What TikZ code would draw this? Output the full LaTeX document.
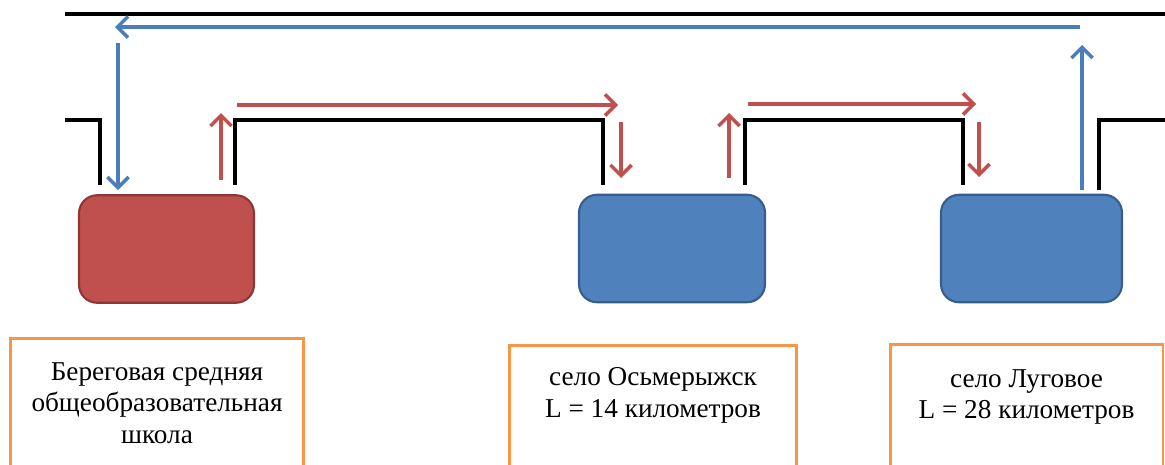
\documentclass[tikz,border=0pt]{standalone}
\usepackage{fontspec}
\setmainfont{Liberation Serif}
\newfontfamily\captionfont{Liberation Serif}
\usetikzlibrary{arrows.meta,positioning}
\definecolor{schoolRed}{HTML}{C0504D}
\definecolor{schoolRedLine}{HTML}{8C3836}
\definecolor{villageBlue}{HTML}{4F81BD}
\definecolor{villageBlueLine}{HTML}{385D8A}
\definecolor{frameOrange}{HTML}{F79646}
\definecolor{busRed}{HTML}{C0504D}
\definecolor{busBlue}{HTML}{4A7EBB}
\begin{document}
\begin{tikzpicture}[x=0.02cm, y=-0.02cm,
  road/.style={line width=2.3pt, line join=miter},
  redway/.style={busRed, line width=2pt, -{Straight Barb[length=6pt,width=12pt,line width=2pt]}},
  blueway/.style={busBlue, line width=2pt, -{Straight Barb[length=6pt,width=12pt,line width=2pt]}},
  house/.style={rounded corners=0.36cm, line width=1.2pt, minimum height=2.15cm},
  infobox/.style={draw=frameOrange, line width=1.7pt, minimum height=2.8cm, anchor=north},
  infotext/.style={align=center, inner sep=0pt, font=\captionfont\fontsize{15.5}{18}\selectfont}]
\useasboundingbox (0,0) rectangle (1165,464);
\clip (0,0) rectangle (1165,464);
\draw[road] (65,14) -- (1165,14);
\draw[road] (65,120) -- (100,120) -- (100,185);
\draw[road] (235,185) -- (235,120) -- (603,120) -- (603,185);
\draw[road] (745,185) -- (745,120) -- (963,120) -- (963,185);
\draw[road] (1099,190) -- (1099,120) -- (1165,120);
\node[house, fill=schoolRed, draw=schoolRedLine, minimum width=3.5cm] (school) at (166.5,249) {};
\node[house, fill=villageBlue, draw=villageBlueLine, minimum width=3.72cm] (osm) at (672,248.5) {};
\node[house, fill=villageBlue, draw=villageBlueLine, minimum width=3.62cm] (lug) at (1031.5,248.5) {};
\draw[blueway] (1080,27) -- (115,27);
\draw[blueway] (118,43) -- (118,190);
\draw[blueway] (1082,190) -- (1082,45);
\draw[redway] (221,180) -- (221,113);
\draw[redway] (237,105) -- (618,105);
\draw[redway] (621,122) -- (621,178);
\draw[redway] (729,178) -- (729,113);
\draw[redway] (748,104) -- (976,104);
\draw[redway] (979,122) -- (979,177);
\node[infobox, minimum width=5.88cm] (schoolbox) at (157,337) {};
\node[infobox, minimum width=5.76cm] (osmbox) at (653,344) {};
\node[infobox, minimum width=5.46cm] (lugbox) at (1026.5,343) {};
\node[infotext, below=0.5cm of schoolbox.north] (schooltext) {Береговая средняя\\общеобразовательная\\школа};
\node[infotext, below=0.46cm of osmbox.north] (osmtext) {село Осьмерыжск\\L = 14 километров};
\node[infotext, below=0.52cm of lugbox.north] (lugtext) {село Луговое\\L = 28 километров};
\end{tikzpicture}
\end{document}
